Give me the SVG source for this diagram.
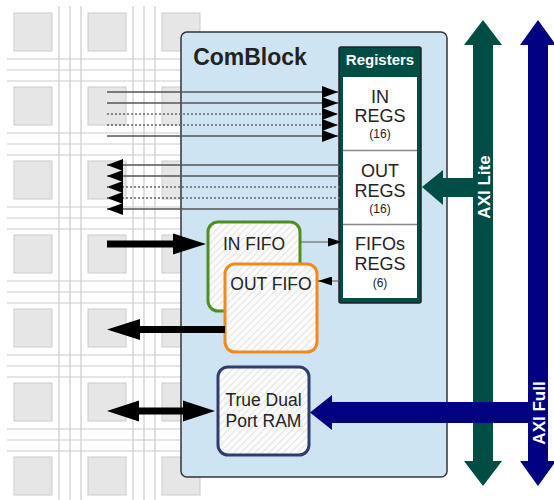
<svg xmlns="http://www.w3.org/2000/svg" width="554" height="500" viewBox="0 0 554 500">
<style>
  .sq { fill: #e6e6e6; stroke: #cccccc; stroke-width: 1; }
  .gl { stroke: #cccccc; stroke-width: 1.2; fill: none; }
  .t { font-family: "Liberation Sans", Arial, sans-serif; fill: #222; text-anchor: middle; }
  .thin { stroke: #555; stroke-width: 1.5; fill: none; }
  .dot { stroke: #666; stroke-width: 1.5; stroke-dasharray: 2 2; fill: none; }
  .fifoline { stroke: #555; stroke-width: 1; fill: none; }
  .box { fill: url(#hatch); stroke-width: 3; }
</style>
<defs>
  <pattern id="hatch" patternUnits="userSpaceOnUse" width="5" height="5" patternTransform="rotate(45)">
    <rect width="5" height="5" fill="#fbfbfb"/>
    <line x1="0" y1="0" x2="0" y2="5" stroke="#dcdcdc" stroke-width="1.5"/>
  </pattern>
  <marker id="ah" markerUnits="userSpaceOnUse" markerWidth="16" markerHeight="12" refX="16" refY="6" orient="auto">
    <path d="M0,0 L16,6 L0,12 z" fill="#000"/>
  </marker>
  <marker id="ahs" markerUnits="userSpaceOnUse" markerWidth="14" markerHeight="9" refX="14" refY="4.5" orient="auto">
    <path d="M0,0 L14,4.5 L0,9 z" fill="#000"/>
  </marker>
</defs>

<g id="background-grid">
  <g class="gl">
    <line x1="59" y1="6" x2="59" y2="500"/><line x1="70" y1="6" x2="70" y2="500"/><line x1="81" y1="6" x2="81" y2="500"/>
    <line x1="133" y1="6" x2="133" y2="500"/><line x1="144" y1="6" x2="144" y2="500"/><line x1="155" y1="6" x2="155" y2="500"/>
    <line x1="7" y1="59" x2="200" y2="59"/><line x1="7" y1="70" x2="200" y2="70"/><line x1="7" y1="81" x2="200" y2="81"/>
    <line x1="7" y1="133" x2="200" y2="133"/><line x1="7" y1="144" x2="200" y2="144"/><line x1="7" y1="155" x2="200" y2="155"/>
    <line x1="7" y1="207" x2="200" y2="207"/><line x1="7" y1="218" x2="200" y2="218"/><line x1="7" y1="229" x2="200" y2="229"/>
    <line x1="7" y1="281" x2="200" y2="281"/><line x1="7" y1="292" x2="200" y2="292"/><line x1="7" y1="303" x2="200" y2="303"/>
    <line x1="7" y1="355" x2="200" y2="355"/><line x1="7" y1="366" x2="200" y2="366"/><line x1="7" y1="377" x2="200" y2="377"/>
    <line x1="7" y1="429" x2="200" y2="429"/><line x1="7" y1="440" x2="200" y2="440"/><line x1="7" y1="451" x2="200" y2="451"/>
  </g>
  <g>
    <rect class="sq" x="14" y="13" width="38" height="38"/><rect class="sq" x="88" y="13" width="38" height="38"/><rect class="sq" x="162" y="13" width="38" height="38"/>
    <rect class="sq" x="14" y="87" width="38" height="38"/><rect class="sq" x="88" y="87" width="38" height="38"/><rect class="sq" x="162" y="87" width="38" height="38"/>
    <rect class="sq" x="14" y="161" width="38" height="38"/><rect class="sq" x="88" y="161" width="38" height="38"/><rect class="sq" x="162" y="161" width="38" height="38"/>
    <rect class="sq" x="14" y="235" width="38" height="38"/><rect class="sq" x="88" y="235" width="38" height="38"/><rect class="sq" x="162" y="235" width="38" height="38"/>
    <rect class="sq" x="14" y="309" width="38" height="38"/><rect class="sq" x="88" y="309" width="38" height="38"/><rect class="sq" x="162" y="309" width="38" height="38"/>
    <rect class="sq" x="14" y="383" width="38" height="38"/><rect class="sq" x="88" y="383" width="38" height="38"/><rect class="sq" x="162" y="383" width="38" height="38"/>
    <rect class="sq" x="14" y="457" width="38" height="38"/><rect class="sq" x="88" y="457" width="38" height="38"/><rect class="sq" x="162" y="457" width="38" height="38"/>
  </g>
</g>

<g id="comblock">
  <rect x="181" y="32" width="266" height="445" rx="6" fill="#cfe4f3" stroke="#333" stroke-width="1.5"/>
  <text class="t" x="250" y="65" font-size="23" font-weight="bold">ComBlock</text>
</g>

<g id="registers">
  <rect x="339" y="47" width="82" height="256" rx="2" fill="#004d45" stroke="#222" stroke-width="1.5"/>
  <text x="380" y="64.5" font-family="Liberation Sans, Arial, sans-serif" font-size="15" font-weight="bold" fill="#fff" text-anchor="middle">Registers</text>
  <rect x="343" y="77" width="74" height="221" fill="#fff"/>
  <line x1="343" y1="150.5" x2="417" y2="150.5" stroke="#888" stroke-width="1.5"/>
  <line x1="343" y1="224.5" x2="417" y2="224.5" stroke="#888" stroke-width="1.5"/>
</g>
<g id="in-regs">
  <text class="t" x="380" y="103" font-size="18">IN</text>
  <text class="t" x="380" y="122" font-size="18">REGS</text>
  <text class="t" x="380" y="138" font-size="12">(16)</text>
</g>
<g id="out-regs">
  <text class="t" x="380" y="177" font-size="18">OUT</text>
  <text class="t" x="380" y="197" font-size="18">REGS</text>
  <text class="t" x="380" y="213" font-size="12">(16)</text>
</g>
<g id="fifos-regs">
  <text class="t" x="380" y="250" font-size="18">FIFOs</text>
  <text class="t" x="380" y="270" font-size="18">REGS</text>
  <text class="t" x="380" y="287" font-size="12">(6)</text>
</g>

<g id="in-fifo">
  <rect class="box" x="208" y="222" width="92" height="89" rx="10" stroke="#4f8f1f"/>
  <text class="t" x="254" y="250" font-size="17.5">IN FIFO</text>
</g>
<g id="out-fifo">
  <rect class="box" x="225" y="264" width="92" height="88" rx="10" stroke="#f18a1c"/>
  <text class="t" x="271" y="290" font-size="17.5">OUT FIFO</text>
</g>
<g id="dual-port-ram">
  <rect class="box" x="218" y="367" width="91" height="88" rx="10" stroke="#2e3d6e"/>
  <text class="t" x="263.5" y="406" font-size="17.5">True Dual</text>
  <text class="t" x="263.5" y="427" font-size="17.5">Port RAM</text>
</g>

<g id="connectors">
  <!-- into IN REGS -->
  <line class="thin" x1="107" y1="92" x2="338" y2="92" marker-end="url(#ah)"/>
  <line class="thin" x1="107" y1="103" x2="338" y2="103" marker-end="url(#ah)"/>
  <line class="dot" x1="107" y1="114" x2="338" y2="114" marker-end="url(#ah)"/>
  <line class="dot" x1="107" y1="125" x2="338" y2="125" marker-end="url(#ah)"/>
  <line class="thin" x1="107" y1="136" x2="338" y2="136" marker-end="url(#ah)"/>
  <!-- from OUT REGS -->
  <line class="thin" x1="340" y1="165" x2="107" y2="165" marker-end="url(#ah)"/>
  <line class="thin" x1="340" y1="176" x2="107" y2="176" marker-end="url(#ah)"/>
  <line class="dot" x1="340" y1="187" x2="107" y2="187" marker-end="url(#ah)"/>
  <line class="dot" x1="340" y1="198" x2="107" y2="198" marker-end="url(#ah)"/>
  <line class="thin" x1="340" y1="209" x2="107" y2="209" marker-end="url(#ah)"/>
  <!-- FIFO regs -->
  <line class="fifoline" x1="300" y1="242" x2="342" y2="242" marker-end="url(#ahs)"/>
  <line class="fifoline" x1="340" y1="281" x2="318" y2="281" marker-end="url(#ahs)"/>
  <!-- thick black arrows -->
  <polygon points="107,240.5 173,240.5 173,233.5 206,244 173,254.5 173,247.5 107,247.5" fill="#000"/>
  <polygon points="225,326 140,326 140,319 107,329.5 140,340 140,333 225,333" fill="#000"/>
  <polygon points="107,411 139,400.5 139,407.5 183,407.5 183,400.5 215,411 183,421.5 183,414.5 139,414.5 139,421.5" fill="#000"/>
  <!-- AXI Lite -->
  <polygon points="483,20 502,45 493,45 493,461 502,461 483,486 464,461 473,461 473,45 464,45" fill="#004d45"/>
  <polygon points="422,187 443,170 443,178 483,178 483,197 443,197 443,205" fill="#004d45"/>
  <!-- AXI Full -->
  <polygon points="538,20 556,45 548,45 548,461 556,461 538,486 520,461 528,461 528,45 520,45" fill="#000080"/>
  <polygon points="310,412.5 332,395 332,402 538,402 538,423 332,423 332,430" fill="#000080"/>
</g>

<g id="bus-labels">
  <text transform="translate(490,187) rotate(-90)" font-family="Liberation Sans, Arial, sans-serif" font-size="17" font-weight="bold" fill="#fff" text-anchor="middle">AXI Lite</text>
  <text transform="translate(545,413) rotate(-90)" font-family="Liberation Sans, Arial, sans-serif" font-size="17" font-weight="bold" fill="#fff" text-anchor="middle">AXI Full</text>
</g>
</svg>
